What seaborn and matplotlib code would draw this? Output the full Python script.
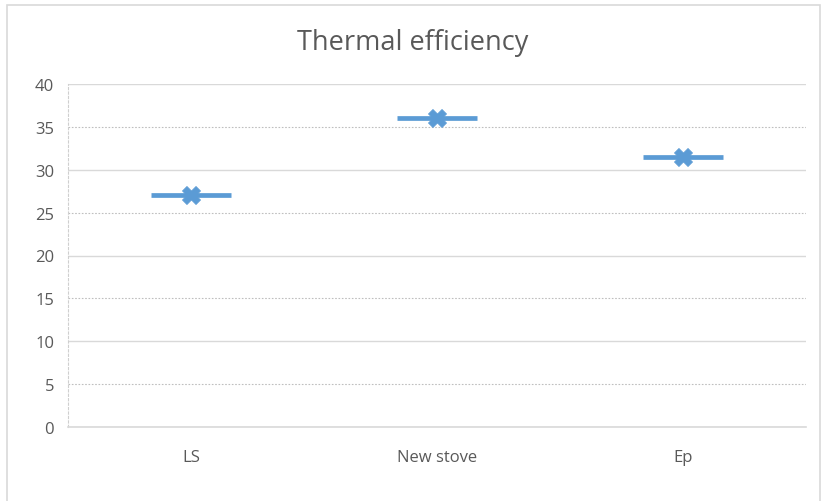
import matplotlib
matplotlib.use("Agg")
import matplotlib.pyplot as plt
import seaborn as sns
import pandas as pd
from matplotlib.patches import Rectangle

# --- Data ---
stoves = ["LS", "New stove", "Ep"]
efficiency = [27.0, 36.0, 31.5]
major_ticks = [0, 10, 20, 30, 40]
minor_ticks = [5, 15, 25, 35]

df = pd.DataFrame({"stove": stoves, "efficiency": efficiency})

sns.set_theme(style="white")
plt.rcParams["font.family"] = ["Open Sans", "DejaVu Sans"]

BLUE = "#5B9BD5"
GRID = "#D9D9D9"
TEXT = "#595959"

fig = plt.figure(figsize=(8.34, 5.02), dpi=100)
ax = fig.add_axes([68 / 834, 1 - 428 / 502, (806 - 68) / 834, (428 - 85) / 502])

# flat bar marker plus an x marker on top
sns.scatterplot(data=df, x="stove", y="efficiency", marker="_", s=3300,
                color=BLUE, linewidth=3.4, ax=ax, zorder=3)
sns.scatterplot(data=df, x="stove", y="efficiency", marker="X", s=170,
                color=BLUE, edgecolor=BLUE, linewidth=0.5, ax=ax, zorder=4)

ax.set_xlim(-0.5, len(stoves) - 0.5)
ax.set_ylim(0, 40)
ax.set_yticks(major_ticks)
ax.set_yticklabels([str(v) for v in major_ticks])
ax.set_yticks(minor_ticks, minor=True)
ax.set_yticklabels([str(v) for v in minor_ticks], minor=True)

ax.grid(axis="y", which="major", color=GRID, linewidth=1.0)
ax.grid(axis="y", which="minor", color="#BFBFBF", linewidth=0.8, linestyle=(0, (1.5, 1.5)))
ax.set_axisbelow(True)

for side in ["top", "right"]:
    ax.spines[side].set_visible(False)
ax.spines["bottom"].set_color(GRID)
ax.spines["bottom"].set_linewidth(1.2)
ax.spines["left"].set_color("#CFCFCF")
ax.spines["left"].set_linestyle((0, (2, 2)))
ax.spines["left"].set_linewidth(0.8)

ax.set_xlabel("")
ax.set_ylabel("")
ax.tick_params(axis="both", which="both", length=0, labelsize=12, colors=TEXT)
ax.tick_params(axis="y", which="both", pad=10)
ax.tick_params(axis="x", pad=16)

fig.text(413 / 834, 1 - 43 / 502, "Thermal efficiency", ha="center", va="center",
         fontsize=19.5, color=TEXT)

# outer chart border
fig.patches.append(Rectangle((7 / 834, -0.01), (820 - 7) / 834, 1 - 6 / 502 + 0.01,
                             transform=fig.transFigure, fill=False,
                             edgecolor=GRID, linewidth=1.2))

fig.savefig("out.png", dpi=100)
